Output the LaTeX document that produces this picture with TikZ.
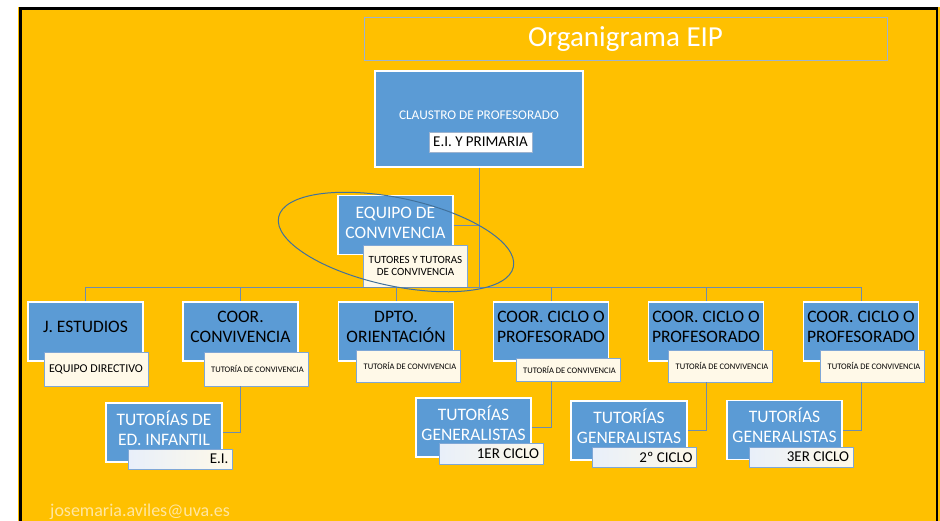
\documentclass[tikz,border=0pt]{standalone}
\usepackage{fontspec}
\setmainfont{Carlito}
\usepackage{tikz}
\definecolor{naranja}{HTML}{FFC000}
\definecolor{azulcaja}{HTML}{5B9BD5}
\definecolor{crema}{HTML}{FFF9E8}
\definecolor{azulclaro}{HTML}{E8EFFA}
\definecolor{bordeeti}{HTML}{7FA7D6}
\definecolor{conector}{HTML}{6E8CAE}
\definecolor{elipse}{HTML}{41719C}
\definecolor{marco}{HTML}{9DB3CF}
\definecolor{correo}{HTML}{FFE6A0}
\newcommand{\letratitulo}{\fontsize{29}{33}\selectfont}
\newcommand{\letragrande}{\fontsize{17.5}{20}\selectfont}
\newcommand{\letraclaustro}{\fontsize{13.3}{15}\selectfont}
\newcommand{\letramedia}{\fontsize{15}{17}\selectfont}
\newcommand{\letradir}{\fontsize{12}{14}\selectfont}
\newcommand{\letraequipo}{\fontsize{11}{11.5}\selectfont}
\newcommand{\letrachica}{\fontsize{8.5}{10}\selectfont}
\newcommand{\letracorreo}{\fontsize{18}{20}\selectfont}

\begin{document}
\begin{tikzpicture}[x=1pt, y=-1pt]
    \tikzset{
        caja/.style={fill=azulcaja, draw=white, line width=1.2pt, minimum width=115pt, minimum height=59pt, inner sep=0pt, align=center, text depth=9pt, font=\letragrande},
        cajaclara/.style={caja, text=white},
        etiqueta/.style={fill=crema, draw=bordeeti, line width=0.9pt, minimum width=104pt, inner sep=0pt, align=center, font=\letrachica},
        etiquetaciclo/.style={draw=bordeeti, line width=0.9pt, left color=azulclaro, right color=crema, text width=96pt, inner xsep=4pt, inner ysep=0pt, minimum height=20pt, align=flush right, font=\letramedia},
        linea/.style={draw=conector, line width=0.9pt}
    }
    \useasboundingbox (0,0) rectangle (940,520);

    % Fondo y marco
    \fill[naranja] (18,7) rectangle (940,545);
    \draw[black, line width=2.5pt] (20.5,545) -- (20.5,8.5) -- (937,8.5) -- (937,545);

    % Titulo
    \node[draw=marco, line width=0.9pt, minimum width=523pt, minimum height=43pt, text=white, font=\letratitulo] (titulo) at (625.5,39) {Organigrama EIP};

    % Claustro
    \node[caja, minimum width=208pt, minimum height=96pt] (claustro) at (479,119) {};
    \node[text=white, font=\letraclaustro] (txtclaustro) at (479,115.5) {CLAUSTRO DE PROFESORADO};
    \node[fill=white, draw=marco, line width=0.9pt, minimum width=103pt, minimum height=20pt, inner sep=0pt, font=\letramedia] (eticlaustro) at (480.5,142) {E.I. Y PRIMARIA};

    % Equipo de convivencia
    \node[cajaclara, text depth=5pt] (equipo) at (395.5,225) {EQUIPO DE\\CONVIVENCIA};
    \node[etiqueta, minimum height=42pt, font=\letraequipo] (etiequipo) at (415.5,266) {TUTORES Y TUTORAS\\DE CONVIVENCIA};

    % Segundo nivel
    \node[caja] (estudios) at (85.5,331.5)  {J. ESTUDIOS};
    \node[caja] (coorconv) at (240.5,331.5) {COOR.\\CONVIVENCIA};
    \node[caja] (dpto)     at (396,331.5)   {DPTO.\\ORIENTACIÓN};
    \node[caja] (ciclo1)   at (551,331.5)   {COOR. CICLO O\\PROFESORADO};
    \node[caja] (ciclo2)   at (706,331.5)   {COOR. CICLO O\\PROFESORADO};
    \node[caja] (ciclo3)   at (861,331.5)   {COOR. CICLO O\\PROFESORADO};

    \node[etiqueta, minimum height=34pt, font=\letradir] (etiestudios) at (96,369)   {EQUIPO DIRECTIVO};
    \node[etiqueta, minimum height=34pt] (eticonv)    at (256,369)    {\hspace{3pt}TUTORÍA DE CONVIVENCIA};
    \node[etiqueta, minimum height=32pt] (etidpto)    at (408.5,366)  {\hspace{3pt}TUTORÍA DE CONVIVENCIA};
    \node[etiqueta, minimum height=23pt] (etiqciclo1) at (568,369.5)  {\hspace{3pt}TUTORÍA DE CONVIVENCIA};
    \node[etiqueta, minimum height=32pt] (etiqciclo2) at (720.5,366)  {\hspace{3pt}TUTORÍA DE CONVIVENCIA};
    \node[etiqueta, minimum height=32pt] (etiqciclo3) at (872.5,366)  {\hspace{3pt}TUTORÍA DE CONVIVENCIA};

    % Tutorias
    \node[cajaclara, minimum width=116pt] (tutinf) at (164,432.5) {TUTORÍAS DE\\ED. INFANTIL};
    \node[etiquetaciclo] (etiinf) at (180.5,459) {E.I.};
    \node[cajaclara] (tutgen1) at (473.5,427.5) {TUTORÍAS\\GENERALISTAS};
    \node[etiquetaciclo, minimum height=21pt] (etigen1) at (491,453.5) {1ER CICLO};
    \node[cajaclara, minimum width=116pt] (tutgen2) at (629,430.5) {TUTORÍAS\\GENERALISTAS};
    \node[etiquetaciclo] (etigen2) at (644.5,457) {2º CICLO};
    \node[cajaclara] (tutgen3) at (784.5,430) {TUTORÍAS\\GENERALISTAS};
    \node[etiquetaciclo] (etigen3) at (801,457) {3ER CICLO};

    % Conectores
    \coordinate (bus) at (0,287);
    \draw[linea] (claustro.south) -- (claustro.south |- bus);
    \draw[linea] (equipo.east) -- (equipo.east -| claustro.south);
    \draw[linea] (estudios.north |- bus) -- (ciclo3.north |- bus);
    \foreach \n in {estudios, coorconv, dpto, ciclo1, ciclo2, ciclo3}
        \draw[linea] (\n.north |- bus) -- (\n.north);
    \draw[linea] (coorconv |- eticonv.south)  |- (tutinf.east);
    \draw[linea] (ciclo1 |- etiqciclo1.south) |- (tutgen1.east);
    \draw[linea] (ciclo2 |- etiqciclo2.south) |- (tutgen2.east);
    \draw[linea] (ciclo3 |- etiqciclo3.south) |- (tutgen3.east);

    % Elipse
    \draw[elipse, line width=1pt, rotate around={-12:(396,242)}] (396,242) ellipse [x radius=120, y radius=44];

    % Correo
    \node[anchor=base west, inner sep=0pt, text=correo, font=\letracorreo] (correo) at (50,516) {josemaria.aviles@uva.es};
\end{tikzpicture}
\end{document}
